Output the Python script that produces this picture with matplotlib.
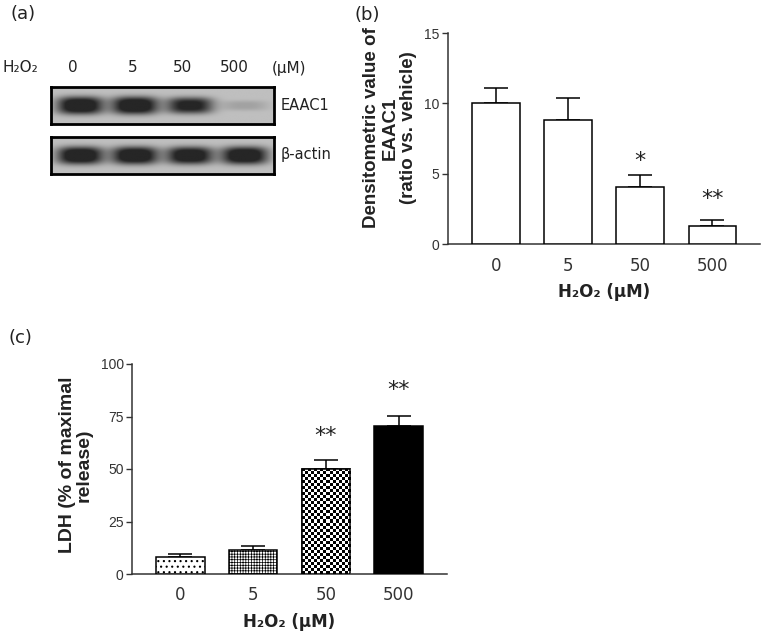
"""
Figure: EAAC1 western blot, densitometry and LDH release after H2O2 exposure.
Output: out.png
"""
import matplotlib
matplotlib.use("Agg")
import matplotlib.pyplot as plt
import numpy as np

plt.rcParams.update({
    "font.family":       "DejaVu Sans",
    "axes.spines.top":   False,
    "axes.spines.right": False,
    "axes.edgecolor":    "#333333",
    "axes.linewidth":    1.1,
    "hatch.linewidth":   0.8,
})

W, H = 761, 634

# Data
doses        = ["0", "5", "50", "500"]
blot_header  = ["H₂O₂", "0", "5", "50", "500", "(μM)"]

# blot band strength per lane (1 = saturated)
eaac1_band   = [1.0, 1.0, 0.85, 0.15]
actin_band   = [1.0, 1.0, 0.97, 1.0]

# (b) densitometry
dens_mean    = [10.0, 8.8, 4.05, 1.3]
dens_sem     = [1.1, 1.55, 0.88, 0.42]
dens_stars   = ["", "", "*", "**"]
dens_star_y  = [0, 0, 5.5, 2.75]

# (c) LDH release
ldh_mean     = [8.2, 11.3, 50.0, 70.5]
ldh_sem      = [1.1, 2.0, 4.3, 4.7]
ldh_stars    = ["", "", "**", "**"]
ldh_star_y   = [0, 0, 63, 85]
ldh_hatch    = ["...", "++++++", "checker", None]
ldh_face     = ["white", "white", "white", "black"]

fig = plt.figure(figsize=(W / 100, H / 100), dpi=100)


def px_axes(x0, y0, x1, y1):
    return fig.add_axes([x0 / W, 1 - y1 / H, (x1 - x0) / W, (y1 - y0) / H])


# (a) western blot
def draw_blot(ax, bands, half_w, half_h):
    xs = np.linspace(-0.53, 3.53, 500)
    ys = np.linspace(-0.5, 0.5, 90)
    X, Y = np.meshgrid(xs, ys)
    dens = np.zeros_like(X)
    for lane, s in enumerate(bands):
        hh = half_h * (0.5 + 0.5 * s)
        dens += s * np.exp(-np.abs((X - lane) / half_w) ** 3) * np.exp(-np.abs(Y / hh) ** 3)
    dens = np.clip(dens * 1.3, 0, 1)
    img = 0.75 - (0.75 - 0.15) * dens
    ax.imshow(img, cmap="gray", vmin=0, vmax=1, extent=(-0.53, 3.53, -0.5, 0.5),
              aspect="auto", interpolation="bilinear")
    ax.set_xlim(-0.53, 3.53)
    ax.set_ylim(-0.5, 0.5)
    ax.set_xticks([])
    ax.set_yticks([])
    for side in ["top", "right", "bottom", "left"]:
        ax.spines[side].set_visible(True)
        ax.spines[side].set_color("black")
        ax.spines[side].set_linewidth(2.0)


ax_e = px_axes(51, 87, 274, 124)
draw_blot(ax_e, eaac1_band, 0.42, 0.24)
ax_a = px_axes(51, 137, 274, 174)
draw_blot(ax_a, actin_band, 0.42, 0.24)

header_x = [3, 73, 133, 182, 234, 272]
for txt, hx in zip(blot_header, header_x):
    fig.text(hx / W, 1 - 68 / H, txt, ha="left" if txt in ("H₂O₂", "(μM)") else "center",
             va="center", fontsize=11, color="#222222")
fig.text(281 / W, 1 - 105 / H, "EAAC1", ha="left", va="center", fontsize=10.5, color="#222222")
fig.text(281 / W, 1 - 155 / H, "β-actin", ha="left", va="center", fontsize=10.5, color="#222222")

fig.text(10 / W, 1 - 14 / H, "(a)", ha="left", va="center", fontsize=13, color="#222222")
fig.text(355 / W, 1 - 15 / H, "(b)", ha="left", va="center", fontsize=13, color="#222222")
fig.text(8 / W, 1 - 338 / H, "(c)", ha="left", va="center", fontsize=13, color="#222222")


def style_bar_axes(ax, ymax, step):
    x = np.arange(len(doses))
    ax.set_xlim(-0.66, 3.66)
    ax.set_ylim(0, ymax)
    ax.set_yticks(np.arange(0, ymax + 1, step))
    ax.set_xticks(x)
    ax.set_xticklabels(doses, fontsize=12, color="#333333")
    ax.tick_params(axis="x", length=0, pad=9)
    ax.tick_params(axis="y", length=4, width=1.0, pad=2, color="#333333",
                   labelcolor="#333333")
    for lab in ax.get_yticklabels():
        lab.set_family("Liberation Sans")
        lab.set_fontsize(10)
    ax.set_xlabel("H₂O₂ (μM)", fontsize=12, fontweight="bold", labelpad=6,
                  color="#222222")


# (b) densitometry
ax_b = px_axes(448, 33, 760, 244)
xb = np.arange(len(doses))
ax_b.bar(xb, dens_mean, width=0.66, color="white", edgecolor="black", linewidth=1.1, zorder=3)
ax_b.errorbar(xb, dens_mean, yerr=[np.zeros(len(xb)), dens_sem], fmt="none",
              ecolor="black", elinewidth=1.1, capsize=8.5, capthick=1.1, zorder=2)
for xi, s, sy in zip(xb, dens_stars, dens_star_y):
    if s:
        ax_b.text(xi, sy, s, ha="center", va="baseline", fontsize=16, color="#222222")
style_bar_axes(ax_b, 15, 5)
ax_b.set_ylabel("Densitometric value of\nEAAC1\n(ratio vs. vehicle)", fontsize=13.5,
                fontweight="bold", family="Liberation Sans", linespacing=1.1,
                color="#222222")
ax_b.yaxis.set_label_coords(-0.10, 0.55)

# (c) LDH release
ax_c = px_axes(132, 364, 447, 574)
xc = np.arange(len(doses))
for xi, v, hatch, face in zip(xc, ldh_mean, ldh_hatch, ldh_face):
    lw_hatch = 0.5 if hatch == "++++++" else 0.8
    with plt.rc_context({"hatch.linewidth": lw_hatch}):
        bars = ax_c.bar(xi, v, width=0.67, color=face, edgecolor="black", linewidth=1.1,
                        hatch=None if hatch == "checker" else hatch, zorder=3)
    if hatch == "checker":
        p = bars[0]
        ncol = max(int(round(p.get_width() * 72.7 / 3.0)), 2)
        nrow = max(int(round(p.get_height() * 2.1 / 3.0)), 2)
        rr, cc = np.indices((nrow, ncol))
        tex = ((rr + cc) % 2).astype(float)
        im = ax_c.imshow(tex, cmap="gray", vmin=0, vmax=1, interpolation="nearest",
                         extent=(p.get_x(), p.get_x() + p.get_width(), 0, p.get_height()),
                         aspect="auto", zorder=3.5)
        im.set_clip_path(p)
        ax_c.bar(xi, v, width=0.67, color="none", edgecolor="black", linewidth=1.1, zorder=4)
ax_c.errorbar(xc, ldh_mean, yerr=[np.zeros(len(xc)), ldh_sem], fmt="none",
              ecolor="black", elinewidth=1.1, capsize=8.5, capthick=1.1, zorder=2)
for xi, s, sy in zip(xc, ldh_stars, ldh_star_y):
    if s:
        ax_c.text(xi, sy, s, ha="center", va="baseline", fontsize=16, color="#222222")
style_bar_axes(ax_c, 100, 25)
ax_c.set_ylabel("LDH (% of maximal\nrelease)", fontsize=14, fontweight="bold",
                family="Liberation Sans", linespacing=1.0, color="#222222")
ax_c.yaxis.set_label_coords(-0.125, 0.52)

fig.savefig("out.png", dpi=100)
plt.close(fig)
